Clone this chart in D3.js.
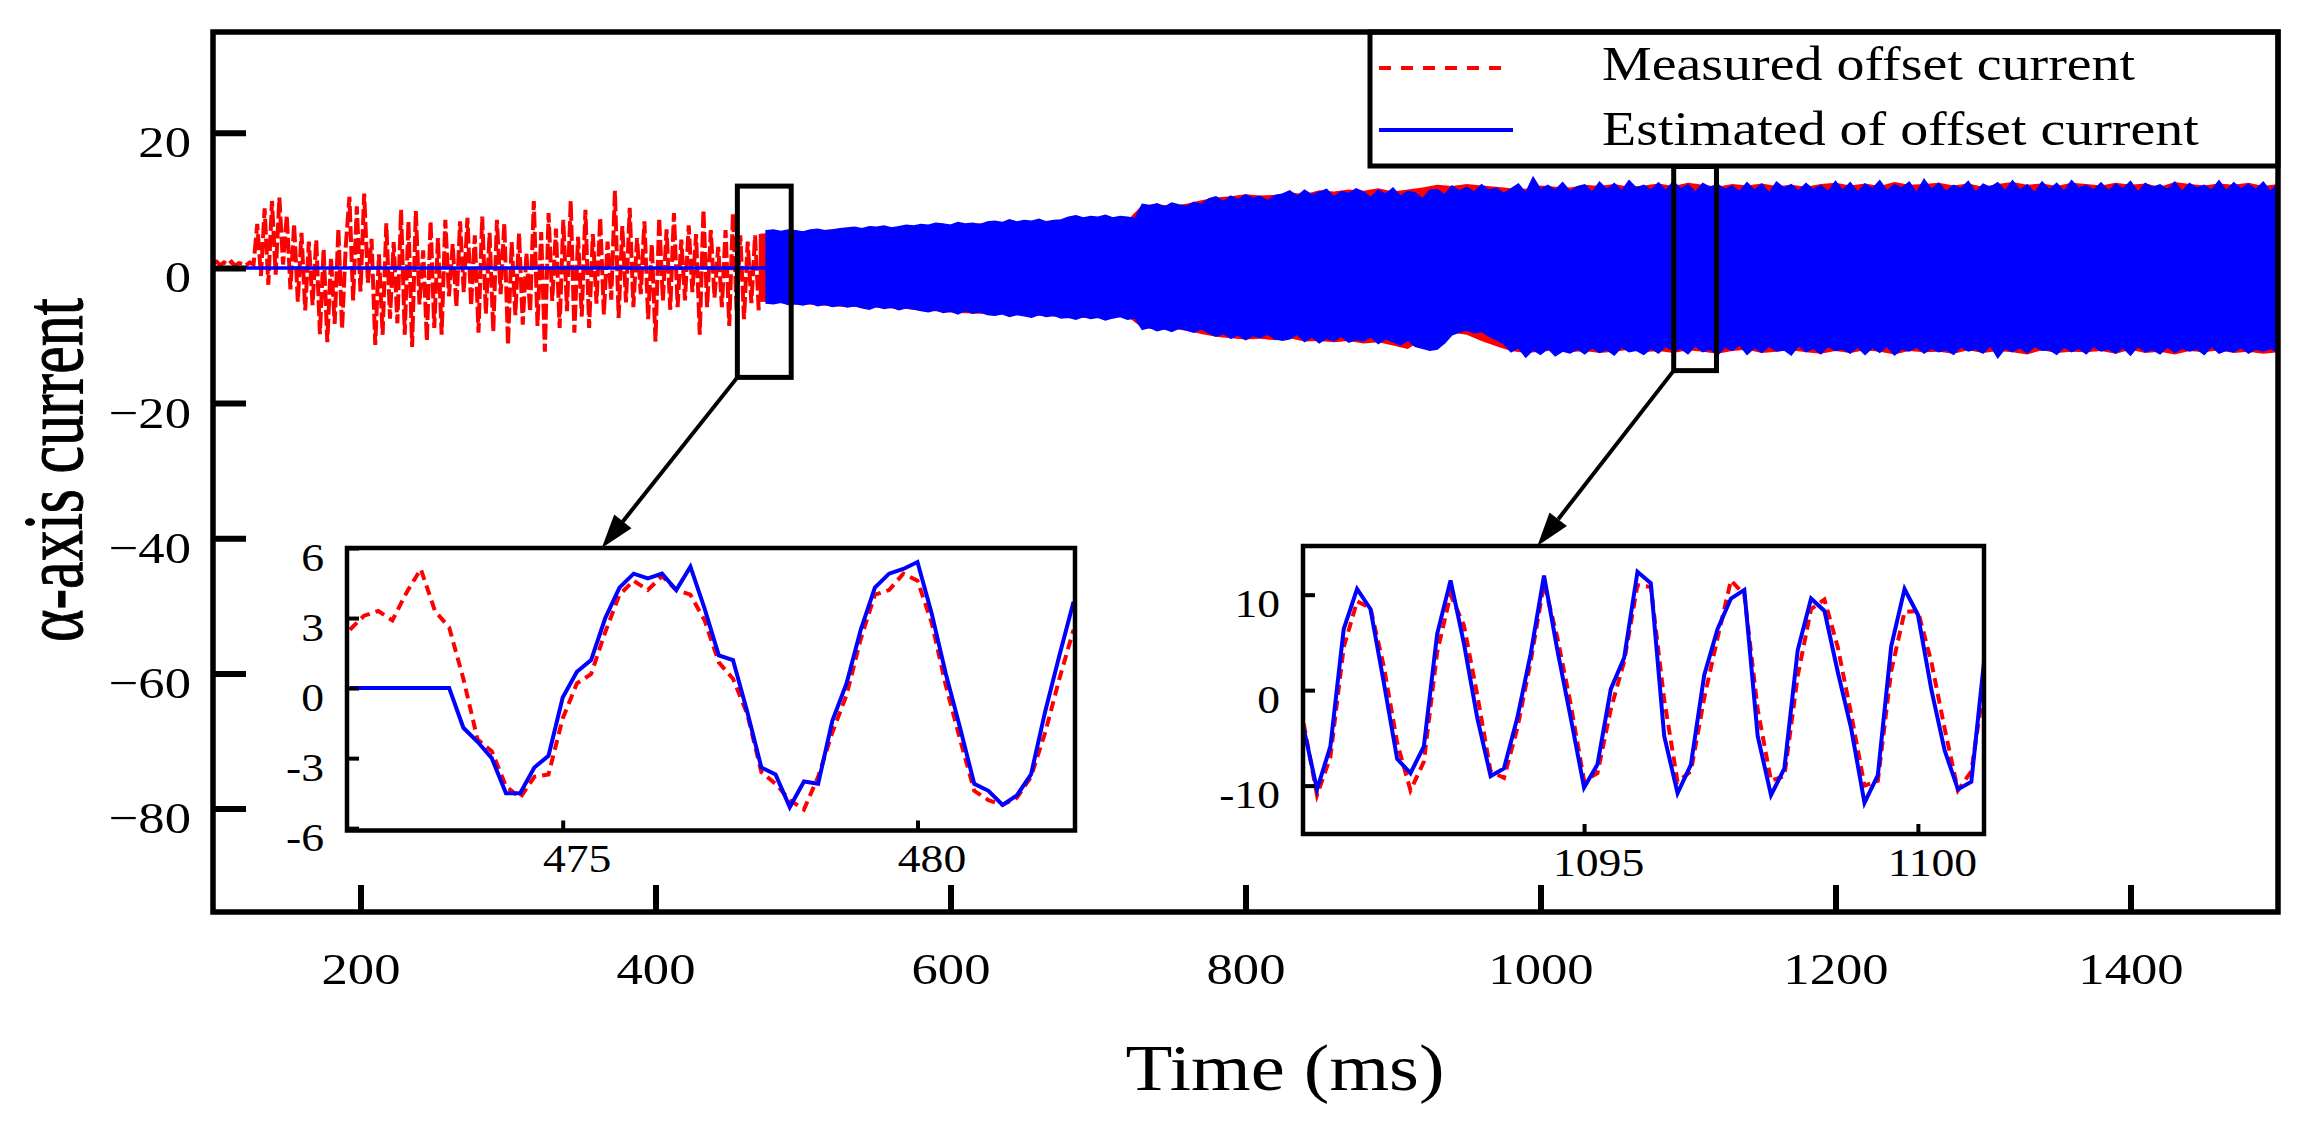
<!DOCTYPE html>
<html>
<head>
<meta charset="utf-8">
<script src="https://cdn.jsdelivr.net/npm/d3@7"></script>
<style>
    body { margin: 0; background: #fff; }
    svg { display: block; font-family: "Liberation Serif", "Times New Roman", serif; }
</style>
</head>
<body>
<script>
// main chart ticks
const xTicks = [200, 400, 600, 800, 1000, 1200, 1400];
const yTicks = [20, 0, -20, -40, -60, -80];

// measured current before the estimator switches on (every 2.5 ms from 100 ms)
const earlyStart = 100, earlyStep = 2.5;
const earlyMeasured = [
    0.6, 0.9, 0.4, 0.8, 0.5, 0.9, 0.3, 0.7, 0.6, 0.4, 0.8, 0.5,
    6.5, -1.2, 8.8, -2.5, 9.9, -1.0, 10.4, 0.5, 7.8,
    -3.2, 6.5, -5.0, 5.2, -6.3, 3.9, -5.5, 4.1,
    -9.8, 2.8, -11.0, 1.5, -8.3, 5.8, -9.0, 3.2,
    10.5, -4.8, 9.1, -3.5, 11.0, -2.2, 4.3, -11.4,
    2.0, -9.9, 6.6, -7.5, 3.8, -8.2, 8.6, -9.9,
    6.9, -11.7, 8.4, -5.4, 2.6, -10.8, 6.9, -8.9,
    4.4, -9.9, 7.1, -4.2, 3.5, -5.8, 6.9, -3.6,
    7.4, -5.6, 4.8, -9.6, 7.6, -6.8, 5.2, -9.4,
    7.1, -3.9, 6.6, -11.4, 3.8, -7.0, 5.1, -8.4,
    2.2, -6.5, 9.9, -8.6, 5.3, -12.4, 8.1, -4.9,
    5.8, -8.9, 7.1, -6.4, 9.9, -9.6, 4.6, -7.2,
    8.6, -8.9, 5.0, -5.3, 7.4, -6.9, 3.9, -4.7,
    11.4, -7.4, 6.2, -5.1, 8.9, -5.8, 4.4, -3.9,
    6.9, -7.6, 3.5, -10.9, 7.4, -4.8, 5.7, -6.2,
    8.1, -5.8, 4.2, -4.8, 6.3, -3.6, 5.0, -9.9,
    8.6, -5.8, 5.6, -4.4, 3.1, -5.8, 5.6, -8.6,
    8.1, -6.3, 4.8, -7.6, 3.9, -5.2, 4.8, -6.3
];

// estimated current is zero until the estimator starts
const flatEstimated = [[100, 0], [475, 0]];

// peaks of the dense oscillation, estimated (every 5 ms from 475 ms)
const estStart = 475, estStep = 5;
const estUpper = [
    5.5, 5.6, 5.4, 5.6, 5.5, 5.3, 5.6, 5.7, 5.5, 5.6, 5.8,
    5.9, 6.0, 5.8, 6.1, 6.0, 6.2, 5.9, 6.1, 6.3, 6.2,
    6.4, 6.3, 6.6, 6.5, 6.3, 6.7, 6.5, 6.6, 6.4, 6.8,
    6.9, 6.7, 7.1, 6.8, 7.0, 6.9, 7.2, 6.8, 7.0, 7.1,
    7.5, 7.7, 7.4, 7.6, 7.5, 7.8, 7.4, 7.6, 7.5, 7.3,
    9.4, 9.2, 9.5, 9.0, 9.6, 9.3, 9.1, 9.7, 9.4, 10.2,
    10.5, 9.8, 10.6, 10.1, 10.8, 10.3, 10.6, 9.9, 10.7, 10.9,
    11.4, 10.6, 11.5, 10.8, 11.2, 11.6, 10.5, 11.3, 11.0, 11.7,
    11.2, 10.4, 11.5, 10.9, 11.8, 10.6, 11.3, 11.1, 10.2, 11.5,
    11.6, 10.8, 12.1, 11.4, 11.9, 11.2, 12.3, 11.5, 11.8, 11.0,
    11.7, 12.4, 11.1, 13.4, 11.6, 12.2, 11.5, 12.6, 11.3, 12.0,
    12.3, 11.2, 12.7, 11.6, 12.5, 11.4, 12.9, 11.8, 12.2, 11.5,
    12.6, 11.4, 12.8, 11.7, 12.3, 11.2, 12.5, 11.9, 12.4, 11.6,
    12.1, 11.3, 12.6, 11.5, 12.4, 11.1, 12.7, 11.8, 12.3, 11.4,
    12.5, 11.6, 12.2, 11.3, 12.8, 11.5, 12.6, 11.2, 12.4, 11.7,
    12.9, 11.4, 12.3, 11.8, 12.7, 11.1, 13.1, 11.6, 12.5, 11.3,
    12.2, 11.7, 12.8, 11.2, 12.4, 11.9, 12.6, 11.4, 12.9, 11.5,
    12.3, 11.1, 12.7, 11.6, 12.5, 11.3, 12.9, 11.8, 12.2, 11.5,
    12.6, 11.4, 12.4, 11.7, 12.8, 11.2, 12.5, 11.9, 12.3, 11.6,
    12.7, 11.3, 12.5, 11.8, 12.2, 11.5, 12.9, 11.4, 12.6, 11.7,
    12.4, 11.6, 12.7, 11.3, 12.5
];
const estLower = [
    -5.2, -5.3, -5.1, -5.4, -5.3, -5.5, -5.2, -5.6, -5.4, -5.7, -5.5,
    -5.8, -5.6, -5.9, -6.1, -5.7, -6.0, -5.8, -6.2, -5.9, -6.1,
    -6.3, -6.5, -6.2, -6.6, -6.4, -6.8, -6.3, -6.7, -6.5, -6.9,
    -7.0, -6.8, -7.2, -6.9, -7.1, -7.3, -6.9, -7.2, -7.0, -7.4,
    -7.3, -7.6, -7.2, -7.5, -7.3, -7.7, -7.4, -7.2, -7.6, -7.4,
    -9.1, -8.8, -9.3, -9.0, -9.4, -8.9, -9.2, -9.5, -9.0, -9.6,
    -10.1, -9.7, -10.4, -9.9, -10.6, -10.0, -10.3, -9.8, -10.5, -10.7,
    -10.5, -9.8, -10.9, -10.2, -11.1, -10.4, -10.8, -10.1, -11.0, -10.6,
    -10.8, -10.2, -11.2, -10.5, -10.9, -11.4, -10.7, -11.6, -11.9, -12.2,
    -12.0, -11.1, -9.9, -9.5, -9.2, -9.6, -9.4, -10.1, -10.6, -11.2,
    -12.4, -11.8, -13.2, -12.1, -12.8, -11.9, -13.0, -12.3, -12.6, -12.0,
    -12.7, -11.8, -12.5, -12.1, -12.9, -11.7, -12.4, -12.2, -12.8, -11.9,
    -12.6, -11.6, -12.3, -11.9, -12.7, -11.5, -12.4, -12.0, -12.9, -11.7,
    -12.2, -11.4, -12.8, -11.8, -12.5, -11.6, -12.3, -12.1, -12.9, -11.5,
    -12.4, -11.9, -12.7, -11.6, -12.2, -12.0, -12.6, -11.7, -12.8, -11.8,
    -12.5, -11.6, -12.9, -12.0, -12.3, -11.7, -12.6, -11.9, -12.4, -12.1,
    -12.8, -11.7, -12.3, -12.0, -12.6, -11.5, -13.3, -11.9, -12.4, -11.8,
    -12.6, -11.6, -12.2, -12.1, -12.8, -11.7, -12.4, -11.9, -12.7, -11.6,
    -12.3, -12.0, -12.6, -11.8, -12.9, -11.6, -12.4, -12.1, -12.7, -11.7,
    -12.5, -11.9, -12.3, -12.0, -12.8, -11.6, -12.6, -12.2, -12.4, -11.8,
    -12.6, -12.0, -12.3, -11.9, -12.5
];

// peaks of the dense oscillation, measured (every 10 ms from 470 ms)
const measStart = 470, measStep = 10;
const measUpper = [
    5.0, 5.3, 5.2, 5.4, 5.5, 5.7, 5.8, 5.9, 5.8, 6.0,
    6.1, 6.2, 6.3, 6.4, 6.5, 6.6, 6.6, 6.7, 6.8, 6.9,
    7.0, 7.3, 7.4, 7.5, 7.3, 7.1, 9.3, 9.4, 9.2, 9.5,
    10.0, 10.4, 10.6, 10.9, 10.7, 10.8, 11.2, 10.9, 11.5, 11.3,
    11.6, 11.4, 11.8, 11.3, 11.6, 11.9, 12.3, 12.1, 12.4, 12.2,
    12.0, 11.8, 11.7, 12.2, 12.0, 11.9, 12.3, 12.1, 12.4, 12.0,
    12.2, 12.5, 12.1, 12.6, 12.3, 12.0, 12.4, 12.2, 12.5, 12.1,
    12.3, 12.0, 12.4, 12.6, 12.2, 12.5, 12.1, 12.7, 12.3, 12.4,
    12.6, 12.2, 12.5, 12.0, 12.4, 12.7, 12.3, 12.5, 12.1, 12.6,
    12.4, 12.2, 12.6, 12.3, 12.5, 12.0, 12.7, 12.4, 12.2, 12.5,
    12.3, 12.6, 12.1, 12.4
];
const measLower = [
    -5.0, -5.1, -5.3, -5.4, -5.5, -5.7, -5.8, -5.7, -5.9, -6.0,
    -6.1, -6.3, -6.4, -6.6, -6.7, -6.8, -6.9, -6.8, -7.0, -7.1,
    -7.2, -7.3, -7.4, -7.4, -7.3, -7.2, -8.9, -9.1, -9.0, -9.3,
    -9.8, -10.2, -10.4, -10.6, -10.5, -10.7, -10.4, -10.9, -10.8, -11.0,
    -10.8, -11.2, -11.0, -11.5, -12.0, -10.6, -9.8, -9.6, -9.9, -10.8,
    -11.6, -12.3, -12.6, -12.4, -12.2, -12.5, -12.3, -12.6, -12.4, -12.1,
    -12.5, -12.3, -12.6, -12.2, -12.4, -12.7, -12.3, -12.1, -12.6, -12.4,
    -12.2, -12.5, -12.7, -12.3, -12.6, -12.2, -12.4, -12.8, -12.3, -12.5,
    -12.4, -12.7, -12.2, -12.6, -12.3, -12.5, -12.8, -12.2, -12.6, -12.4,
    -12.5, -12.3, -12.7, -12.1, -12.6, -12.4, -12.8, -12.3, -12.5, -12.2,
    -12.6, -12.4, -12.7, -12.5
];

// windows marked on the main chart
const zoomWindows = [
    { t0: 455.5, t1: 492, v0: -16.2, v1: 12.1 },
    { t0: 1090.3, t1: 1119.3, v0: -15.2, v1: 15.0 }
];

// inset 1 (every 0.2 ms from 472 ms)
const inset1Start = 472.0, inset1Step = 0.2;
const inset1Measured = [
    2.5, 3.1, 3.3, 2.9, 4.1, 5.1, 3.3, 2.6, 0.4, -2.2,
    -2.7, -4.2, -4.7, -3.8, -3.7, -1.3, 0.2, 0.6, 2.4, 4.0,
    4.6, 4.2, 4.8, 4.2, 4.0, 2.9, 1.1, 0.4, -1.1, -3.6,
    -4.1, -4.8, -5.2, -3.8, -1.9, -0.3, 2.1, 4.0, 4.2, 4.9,
    4.6, 2.8, 0.1, -2.2, -4.4, -4.8, -5.0, -4.7, -3.8, -1.9,
    0.4, 2.5
];
const inset1Estimated = [
    0, 0, 0, 0, 0, 0, 0, 0, -1.7, -2.3,
    -3.0, -4.5, -4.5, -3.4, -2.9, -0.4, 0.7, 1.2, 3.0, 4.3,
    4.9, 4.7, 4.9, 4.2, 5.2, 3.4, 1.4, 1.2, -1.0, -3.4,
    -3.7, -5.1, -4.0, -4.1, -1.4, 0.2, 2.5, 4.3, 4.9, 5.1,
    5.4, 3.2, 0.6, -1.7, -4.1, -4.4, -5.0, -4.6, -3.7, -1.0,
    1.4, 3.7
];
const inset1XTicks = [475, 480];
const inset1YTicks = [6, 3, 0, -3, -6];

// inset 2 (every 0.2 ms from 1090.8 ms)
const inset2Start = 1090.8, inset2Step = 0.2;
const inset2Measured = [
    -3.5, -11.0, -7.0, 4.5, 9.3, 8.6, 2.5, -5.5, -10.5, -7.5,
    4.0, 10.0, 6.8, -0.5, -8.5, -9.2, -4.0, 3.0, 11.2, 5.5,
    -1.5, -9.5, -8.7, -2.0, 3.0, 11.0, 10.8, -1.0, -9.6, -8.5,
    -0.8, 5.5, 11.5, 10.0, -2.0, -9.5, -9.0, 1.5, 8.5, 9.5,
    4.5, -2.5, -10.0, -9.5, 2.0, 8.2, 8.3, 3.0, -4.0, -10.5,
    -8.5, 1.0
];
const inset2Estimated = [
    -4.0, -10.4, -5.9, 6.4, 10.6, 8.5, 0.8, -7.2, -8.7, -5.9,
    5.9, 11.5, 4.9, -2.9, -9.0, -8.2, -2.9, 3.8, 12.0, 4.2,
    -2.9, -10.2, -7.8, 0.1, 3.4, 12.4, 11.2, -4.8, -10.8, -7.8,
    1.6, 6.4, 9.6, 10.5, -4.8, -11.0, -8.2, 4.2, 9.6, 8.3,
    1.9, -4.0, -11.8, -8.9, 4.6, 10.6, 7.9, 0.1, -6.3, -10.4,
    -9.6, 3.6
];
const inset2XTicks = [1095, 1100];
const inset2YTicks = [10, 0, -10];

// where the arrows land on each inset (inset time axis)
const arrowTargets = [475.55, 1094.3];

const legendLabels = ['Measured offset current', 'Estimated of offset current'];

const RED = '#ff0000';
const BLUE = '#0000ff';
const SX = 1.17; // glyphs in the figure are a bit wider than the font

const width = 2312, height = 1121;
const frame = { left: 213, right: 2278, top: 32, bottom: 912 };

const svg = d3.select('body')
    .append('svg')
    .attr('width', width)
    .attr('height', height);

const x = d3.scaleLinear().domain([100, 1500]).range([frame.left, frame.right]);
const y = d3.scaleLinear().domain([-95.3, 34.9]).range([frame.bottom, frame.top]);

svg.append('clipPath').attr('id', 'clipMain')
    .append('rect')
    .attr('x', frame.left).attr('y', frame.top)
    .attr('width', frame.right - frame.left).attr('height', frame.bottom - frame.top);

const plot = svg.append('g').attr('clip-path', 'url(#clipMain)');

// measured, dense part (envelope)
const measArea = d3.area()
    .x((d, i) => x(measStart + i * measStep))
    .y0((d, i) => y(measLower[i]))
    .y1(d => y(d));
plot.append('path')
    .datum(measUpper)
    .attr('d', measArea)
    .attr('fill', RED);

// measured, before the estimator
plot.append('path')
    .datum(earlyMeasured)
    .attr('d', d3.line().x((d, i) => x(earlyStart + i * earlyStep)).y(d => y(d)))
    .attr('fill', 'none')
    .attr('stroke', RED)
    .attr('stroke-width', 4)
    .attr('stroke-dasharray', '16,4');

// estimated, dense part (envelope)
const estArea = d3.area()
    .x((d, i) => x(estStart + i * estStep))
    .y0((d, i) => y(estLower[i]))
    .y1(d => y(d));
plot.append('path')
    .datum(estUpper)
    .attr('d', estArea)
    .attr('fill', BLUE)
    .attr('stroke', BLUE)
    .attr('stroke-width', 1.5);

plot.append('path')
    .datum(flatEstimated)
    .attr('d', d3.line().x(d => x(d[0])).y(d => y(d[1])))
    .attr('fill', 'none')
    .attr('stroke', BLUE)
    .attr('stroke-width', 3.5);

// zoom windows
svg.selectAll('rect.win')
    .data(zoomWindows)
    .enter()
    .append('rect')
    .attr('class', 'win')
    .attr('x', d => x(d.t0))
    .attr('y', d => y(d.v1))
    .attr('width', d => x(d.t1) - x(d.t0))
    .attr('height', d => y(d.v0) - y(d.v1))
    .attr('fill', 'none')
    .attr('stroke', '#000')
    .attr('stroke-width', 5);

// legend
const legend = svg.append('g');
legend.append('rect')
    .attr('x', 1370).attr('y', frame.top)
    .attr('width', frame.right - 1370).attr('height', 166 - frame.top)
    .attr('fill', '#fff')
    .attr('stroke', '#000')
    .attr('stroke-width', 5);
legend.append('line')
    .attr('x1', 1379).attr('x2', 1502).attr('y1', 68).attr('y2', 68)
    .attr('stroke', RED).attr('stroke-width', 4).attr('stroke-dasharray', '12,10');
legend.append('line')
    .attr('x1', 1379).attr('x2', 1513).attr('y1', 130).attr('y2', 130)
    .attr('stroke', BLUE).attr('stroke-width', 4);
legend.selectAll('text')
    .data(legendLabels)
    .enter()
    .append('text')
    .attr('transform', (d, i) => `translate(1602,${i === 0 ? 80 : 145}) scale(1.165,1)`)
    .attr('font-size', 48)
    .text(d => d);

// main axes
const gx = svg.append('g')
    .attr('transform', `translate(0,${frame.bottom})`)
    .call(d3.axisBottom(x).tickValues(xTicks).tickSize(-27).tickSizeOuter(0)
        .tickFormat(d => String(d)));
gx.attr('font-family', null).attr('font-size', 45);
gx.select('.domain').remove();
gx.selectAll('.tick line').attr('stroke', '#000').attr('stroke-width', 6);
gx.selectAll('.tick text')
    .attr('y', 72).attr('dy', null)
    .attr('fill', '#000')
    .attr('transform', `scale(${SX},1)`);

const gy = svg.append('g')
    .attr('transform', `translate(${frame.left},0)`)
    .call(d3.axisLeft(y).tickValues(yTicks).tickSize(-33).tickSizeOuter(0)
        .tickFormat(d => (d < 0 ? '\u2212' : '') + Math.abs(d)));
gy.attr('font-family', null).attr('font-size', 45);
gy.select('.domain').remove();
gy.selectAll('.tick line').attr('stroke', '#000').attr('stroke-width', 6);
gy.selectAll('.tick text')
    .attr('x', -22 / SX).attr('y', 24).attr('dy', null)
    .attr('fill', '#000')
    .attr('transform', `scale(${SX},1)`);

svg.append('rect')
    .attr('x', frame.left).attr('y', frame.top)
    .attr('width', frame.right - frame.left).attr('height', frame.bottom - frame.top)
    .attr('fill', 'none')
    .attr('stroke', '#000')
    .attr('stroke-width', 5.5);

// axis titles
svg.append('text')
    .attr('transform', `translate(1285,1090) scale(1.18,1)`)
    .attr('text-anchor', 'middle')
    .attr('font-size', 65)
    .text('Time (ms)');

svg.append('text')
    .attr('transform', 'translate(82,470) rotate(-90) scale(1,1.35)')
    .attr('text-anchor', 'middle')
    .attr('font-size', 62)
    .attr('stroke', '#000')
    .attr('stroke-width', 0.8)
    .text('\u03b1-axis current');

// insets
function drawInset(id, box, xDomain, yDomain, start, step, measured, estimated, xt, yt) {
    const ix = d3.scaleLinear().domain(xDomain).range([box.left, box.right]);
    const iy = d3.scaleLinear().domain(yDomain).range([box.bottom, box.top]);

    svg.append('rect')
        .attr('x', box.left).attr('y', box.top)
        .attr('width', box.right - box.left).attr('height', box.bottom - box.top)
        .attr('fill', '#fff');

    svg.append('clipPath').attr('id', id)
        .append('rect')
        .attr('x', box.left).attr('y', box.top)
        .attr('width', box.right - box.left).attr('height', box.bottom - box.top);

    const g = svg.append('g').attr('clip-path', `url(#${id})`);
    const line = d3.line().x((d, i) => ix(start + i * step)).y(d => iy(d));

    g.append('path')
        .datum(measured)
        .attr('d', line)
        .attr('fill', 'none')
        .attr('stroke', RED)
        .attr('stroke-width', 4)
        .attr('stroke-dasharray', '10,6');

    g.append('path')
        .datum(estimated)
        .attr('d', line)
        .attr('fill', 'none')
        .attr('stroke', BLUE)
        .attr('stroke-width', 4);

    const ax = svg.append('g')
        .attr('transform', `translate(0,${box.bottom})`)
        .call(d3.axisBottom(ix).tickValues(xt).tickSize(-10).tickSizeOuter(0).tickFormat(d => String(d)));
    ax.attr('font-family', null).attr('font-size', 39);
    ax.select('.domain').remove();
    ax.selectAll('.tick line').attr('stroke', '#000').attr('stroke-width', 4);
    ax.selectAll('.tick text')
        .attr('x', 14 / SX).attr('y', 42).attr('dy', null)
        .attr('fill', '#000')
        .attr('transform', `scale(${SX},1)`);

    const ay = svg.append('g')
        .attr('transform', `translate(${box.left},0)`)
        .call(d3.axisLeft(iy).tickValues(yt).tickSize(-12).tickSizeOuter(0).tickFormat(d => String(d)));
    ay.attr('font-family', null).attr('font-size', 39);
    ay.select('.domain').remove();
    ay.selectAll('.tick line').attr('stroke', '#000').attr('stroke-width', 4);
    ay.selectAll('.tick text')
        .attr('x', -23 / SX).attr('y', 22).attr('dy', null)
        .attr('fill', '#000')
        .attr('transform', `scale(${SX},1)`);

    svg.append('rect')
        .attr('x', box.left).attr('y', box.top)
        .attr('width', box.right - box.left).attr('height', box.bottom - box.top)
        .attr('fill', 'none')
        .attr('stroke', '#000')
        .attr('stroke-width', 4.5);

    return ix;
}

const box1 = { left: 347, right: 1075, top: 548, bottom: 830.5 };
const box2 = { left: 1303, right: 1984, top: 546, bottom: 834 };

const ix1 = drawInset('clipInset1', box1, [471.96, 482.22], [-6.1, 6.0],
    inset1Start, inset1Step, inset1Measured, inset1Estimated, inset1XTicks, inset1YTicks);
const ix2 = drawInset('clipInset2', box2, [1090.79, 1100.99], [-15.07, 15.1],
    inset2Start, inset2Step, inset2Measured, inset2Estimated, inset2XTicks, inset2YTicks);

// arrows from the windows to the insets
function arrow(x1, y1, x2, y2) {
    const a = Math.atan2(y2 - y1, x2 - x1);
    const L = 34, W = 11;
    const bx = x2 - L * Math.cos(a), by = y2 - L * Math.sin(a);
    svg.append('line')
        .attr('x1', x1).attr('y1', y1).attr('x2', bx).attr('y2', by)
        .attr('stroke', '#000').attr('stroke-width', 4);
    svg.append('path')
        .attr('d', d3.line()([
            [x2, y2],
            [bx + W * Math.sin(a), by - W * Math.cos(a)],
            [bx - W * Math.sin(a), by + W * Math.cos(a)]
        ]) + 'Z')
        .attr('fill', '#000');
}

arrow(x(zoomWindows[0].t0), y(zoomWindows[0].v0), ix1(arrowTargets[0]), box1.top);
arrow(x(zoomWindows[1].t0), y(zoomWindows[1].v0), ix2(arrowTargets[1]), box2.top);
</script>
</body>
</html>
